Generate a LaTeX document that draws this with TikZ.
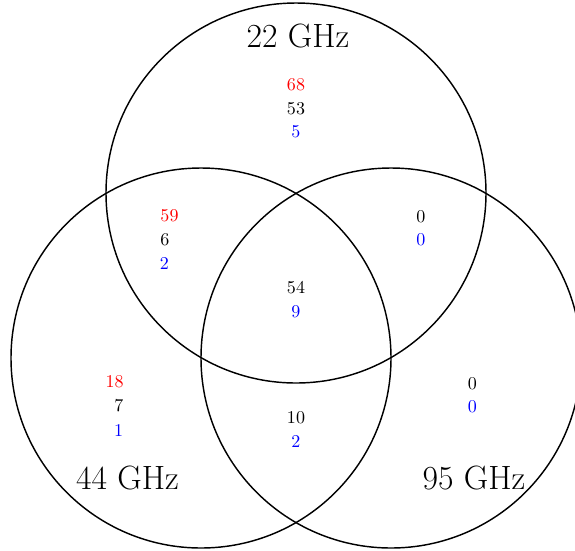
\documentclass[tikz,border=0pt]{standalone}
\begin{document}
\begin{tikzpicture}[x=0.555pt,y=-0.555pt,
  ring/.style={draw=black,thick},
  num/.style={inner sep=0pt,font=\normalsize},
  rnum/.style={num,text=red},
  bnum/.style={num,text=blue},
  band/.style={inner sep=0pt,font=\fontsize{18.7}{22}\selectfont}]
\useasboundingbox (0,0) rectangle (575,550);
% circles
\draw[ring] (296,193) circle[radius=105.45pt];
\draw[ring] (201,358) circle[radius=105.45pt];
\draw[ring] (391,358) circle[radius=105.45pt];
% band labels
\node[band] (l22) at (298,36) {22 GHz};
\node[band] (l44) at (127.5,478) {44 GHz};
\node[band] (l95) at (474,478) {95 GHz};
% 22 only
\node[rnum] (a1) at (296,85) {68};
\node[num]  (a2) at (296,109) {53};
\node[bnum] (a3) at (296,132) {5};
% 22 & 44
\node[rnum] (b1) at (169.5,216) {59};
\node[num]  (b2) at (165,240) {6};
\node[bnum] (b3) at (164.5,263) {2};
% 22 & 95
\node[num]  (c2) at (421,216.5) {0};
\node[bnum] (c3) at (421,240) {0};
% all three
\node[num]  (d2) at (296,287.5) {54};
\node[bnum] (d3) at (296,311.5) {9};
% 44 only
\node[rnum] (e1) at (114.7,382) {18};
\node[num]  (e2) at (119,406) {7};
\node[bnum] (e3) at (118.7,430) {1};
% 44 & 95
\node[num]  (f2) at (296,418) {10};
\node[bnum] (f3) at (296,441.7) {2};
% 95 only
\node[num]  (g2) at (472.5,383.3) {0};
\node[bnum] (g3) at (472.5,406.7) {0};
\end{tikzpicture}
\end{document}
